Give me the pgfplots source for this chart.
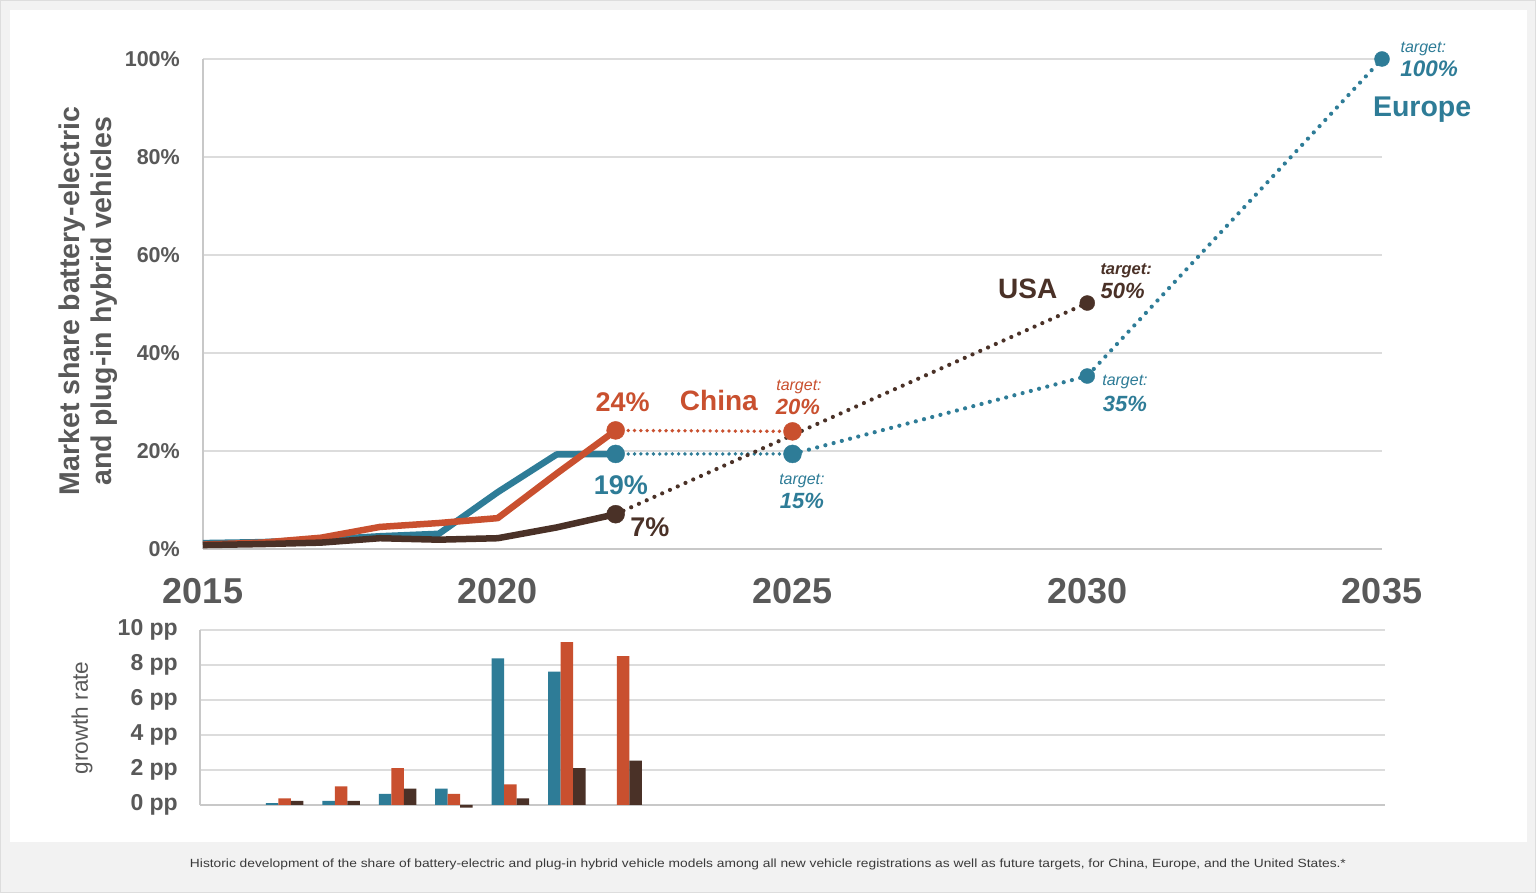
\documentclass[border=0pt]{standalone}
\usepackage{pgfplots}
\pgfplotsset{compat=1.18}
\usepackage{fontspec}
\setmainfont{Liberation Sans}
\definecolor{cblue}{HTML}{2E7C97}
\definecolor{corange}{HTML}{C9502F}
\definecolor{cbrown}{HTML}{4A3127}
\definecolor{tgray}{HTML}{595959}
\definecolor{ggray}{HTML}{DCDCDC}
\definecolor{agray}{HTML}{C8C8C8}
\definecolor{bggray}{HTML}{F2F2F2}
\definecolor{bordergray}{HTML}{DDDDDD}
\definecolor{capgray}{HTML}{3A3A3A}
\newcommand{\fs}[1]{\fontsize{#1}{#1}\selectfont}
\tikzset{dotline/.style={line width=4.2pt, line cap=round, dash pattern=on 0pt off 8.5pt},
         dotflat/.style={line width=3.8pt, line cap=round, dash pattern=on 0pt off 6.3pt}}
\begin{document}
\begin{tikzpicture}[x=1pt,y=1pt]
\useasboundingbox (0,0) rectangle (1536,893);
\fill[bggray] (0,0) rectangle (1536,893);
\draw[bordergray, line width=1pt] (0.5,0.5) rectangle (1535.5,892.5);
\fill[white] (10,51) rectangle (1527,883);
\node[text=capgray] at (768,29) {\resizebox{1156pt}{8.6pt}{\fs{12}Historic development of the share of battery-electric and plug-in hybrid vehicle models among all new vehicle registrations as well as future targets, for China, Europe, and the United States.*}};

\node[rotate=90, align=center, text=tgray, font=\fontsize{28.5}{32}\selectfont\bfseries] at (88,592) {Market share battery-electric\\and plug-in hybrid vehicles};
\node[rotate=90, text=tgray, font=\fs{22.6}] at (82,175) {growth rate};

\begin{axis}[
 at={(203pt,344pt)}, anchor=south west, scale only axis,
 width=1179pt, height=490pt,
 xmin=2015, xmax=2035, ymin=0, ymax=100,
 clip=false,
 axis lines=left,
 axis line style={-, draw=agray, line width=1.5pt},
 xtick={2015,2020,2025,2030,2035},
 xticklabels={2015,2020,2025,2030,2035},
 ytick={0,20,40,60,80,100},
 yticklabels={0\%,20\%,40\%,60\%,80\%,100\%},
 major tick length=0pt,
 tick style={draw=none},
 ymajorgrids, grid style={draw=ggray, line width=1.5pt},
 xticklabel style={font=\fs{36}\bfseries, text=tgray, anchor=north, inner sep=0pt, yshift=-29pt},
 yticklabel style={font=\fs{21.5}\bfseries, text=tgray, anchor=east, inner sep=0pt, xshift=-23pt},
]
\addplot[cblue, line width=6.5pt, line join=round] coordinates {(2015,1.2)(2016,1.4)(2017,1.9)(2018,2.6)(2019,3.1)(2020,11.6)(2021,19.3)(2022,19.4)};
\addplot[corange, line width=6.5pt, line join=round] coordinates {(2015,0.9)(2016,1.3)(2017,2.3)(2018,4.5)(2019,5.3)(2020,6.3)(2021,15.4)(2022,24.2)};
\addplot[cbrown, line width=6.5pt, line join=round] coordinates {(2015,0.8)(2016,1.0)(2017,1.3)(2018,2.2)(2019,1.9)(2020,2.2)(2021,4.4)(2022,7.1)};
\addplot[cblue, dotflat] coordinates {(2022,19.4)(2025,19.4)};
\addplot[cblue, dotline] coordinates {(2025,19.4)(2030,35.3)(2035,100)};
\addplot[corange, dotflat] coordinates {(2022,24.2)(2025,24.0)};
\addplot[only marks, mark=*, mark size=9pt, mark options={fill=corange, draw=corange}] coordinates {(2022,24.2)(2025,24.0)};
\addplot[only marks, mark=*, mark size=9pt, mark options={fill=cblue, draw=cblue}] coordinates {(2022,19.4)(2025,19.4)};
\addplot[only marks, mark=*, mark size=7.5pt, mark options={fill=cblue, draw=cblue}] coordinates {(2030,35.3)(2035,100)};
\addplot[cbrown, dotline] coordinates {(2022,7.1)(2030,50.2)};
\addplot[only marks, mark=*, mark size=9pt, mark options={fill=cbrown, draw=cbrown}] coordinates {(2022,7.1)};
\addplot[only marks, mark=*, mark size=7.5pt, mark options={fill=cbrown, draw=cbrown}] coordinates {(2030,50.2)};

\node[text=corange, font=\fs{27}\bfseries] at (axis cs:2022.12,30.0) {24\%};
\node[text=corange, font=\fs{28}\bfseries] at (axis cs:2023.75,30.4) {China};
\node[text=corange, font=\fs{16}\itshape] at (axis cs:2025.11,33.0) {target:};
\node[text=corange, font=\fs{22}\bfseries\itshape] at (axis cs:2025.09,29.0) {20\%};
\node[text=cblue, font=\fs{27}\bfseries] at (axis cs:2022.09,13.1) {19\%};
\node[text=cblue, font=\fs{16}\itshape] at (axis cs:2025.16,13.8) {target:};
\node[text=cblue, font=\fs{22}\bfseries\itshape] at (axis cs:2025.16,9.8) {15\%};
\node[text=cbrown, font=\fs{27}\bfseries] at (axis cs:2022.58,4.5) {7\%};
\node[text=cbrown, font=\fs{28}\bfseries] at (axis cs:2028.99,53.1) {USA};
\node[text=cbrown, font=\fs{16.5}\bfseries\itshape] at (axis cs:2030.66,56.8) {target:};
\node[text=cbrown, font=\fs{22}\bfseries\itshape] at (axis cs:2030.6,52.7) {50\%};
\node[text=cblue, font=\fs{16}\itshape] at (axis cs:2030.64,34.0) {target:};
\node[text=cblue, font=\fs{22}\bfseries\itshape] at (axis cs:2030.64,29.6) {35\%};
\node[text=cblue, font=\fs{16}\itshape] at (axis cs:2035.70,102.1) {target:};
\node[text=cblue, font=\fs{22.5}\bfseries\itshape] at (axis cs:2035.8,98.0) {100\%};
\node[text=cblue, font=\fs{28.5}\bfseries] at (axis cs:2035.68,89.6) {Europe};
\end{axis}

\begin{axis}[
 at={(200pt,88pt)}, anchor=south west, scale only axis,
 width=1185pt, height=175pt,
 xmin=-0.5, xmax=20.5, ymin=0, ymax=10,
 clip=false,
 axis lines=left, axis line style={-, draw=agray, line width=1.5pt},
 xtick=\empty,
 ytick={0,2,4,6,8,10}, yticklabels={0 pp,2 pp,4 pp,6 pp,8 pp,10 pp},
 major tick length=0pt, tick style={draw=none},
 ymajorgrids, grid style={draw=ggray, line width=1.5pt},
 yticklabel style={font=\fs{23}\bfseries, text=tgray, anchor=east, inner sep=0pt, xshift=-22pt},
 ybar=0pt, bar width=12.5pt,
]
\addplot[fill=cblue, draw=none] coordinates {(1,0.11)(2,0.23)(3,0.63)(4,0.93)(5,8.38)(6,7.62)};
\addplot[fill=corange, draw=none] coordinates {(1,0.38)(2,1.07)(3,2.1)(4,0.63)(5,1.18)(6,9.31)(7,8.5)};
\addplot[fill=cbrown, draw=none] coordinates {(1,0.23)(2,0.23)(3,0.93)(4,-0.15)(5,0.38)(6,2.1)(7,2.53)};
\end{axis}
\end{tikzpicture}
\end{document}
